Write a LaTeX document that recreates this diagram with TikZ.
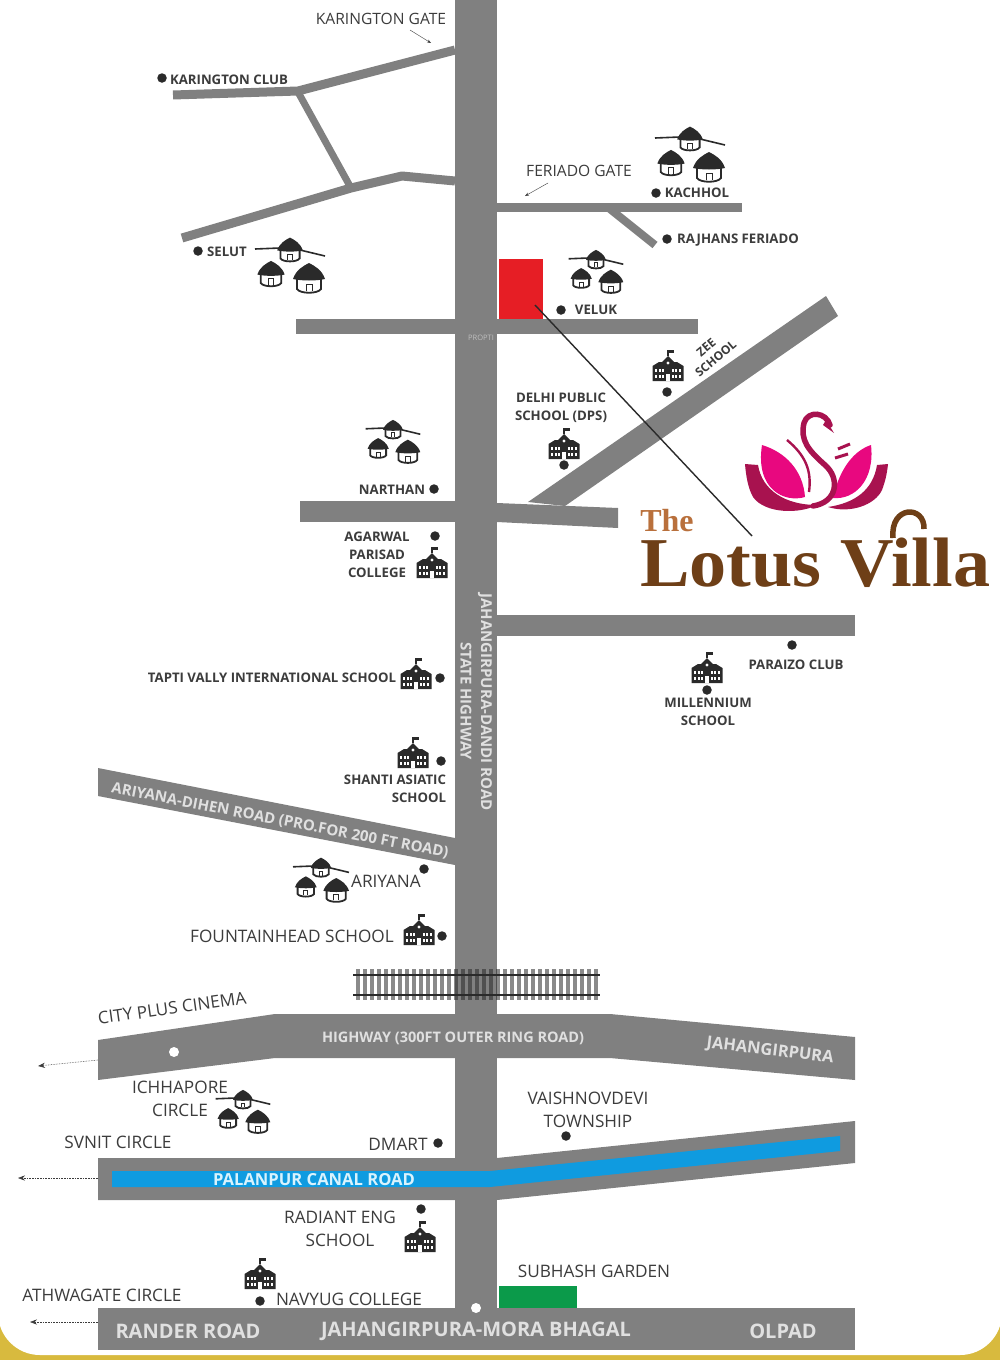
\documentclass[tikz,border=0pt]{standalone}
\usepackage{fontspec}
\setmainfont{Open Sans}
\newfontfamily\logofont{Liberation Serif}
\usepackage{xcolor}
\usetikzlibrary{arrows.meta}
\definecolor{roadgray}{HTML}{808080}
\definecolor{inkgray}{HTML}{3C3C3C}
\definecolor{iconblack}{HTML}{2A2A2A}
\definecolor{canalblue}{HTML}{0F9BE0}
\definecolor{plotred}{HTML}{E61E25}
\definecolor{gardengreen}{HTML}{0B9A4A}
\definecolor{swanpink}{HTML}{E8087F}
\definecolor{swandark}{HTML}{A8124F}
\definecolor{lotusbrown}{HTML}{6E3F17}
\definecolor{lotustan}{HTML}{B9703C}
\definecolor{goldedge}{HTML}{D8BA3E}
\newcommand{\hutshape}{%
    \draw[iconblack,fill=white,line width=1.8pt] (-12,-2) -- (-12,13) .. controls (-9,18) and (9,18) .. (12,13) -- (12,-2);
    \fill[iconblack] (-16,3) .. controls (-13,-6) and (-6,-10) .. (0,-13) .. controls (6,-10) and (13,-6) .. (16,3) .. controls (7,5) and (-7,5) .. cycle;
    \draw[iconblack,line width=1pt] (-3,15) -- (-3,8) -- (3,8) -- (3,15);
}
\tikzset{
    road/.style={fill=roadgray,draw=none},
    track/.style={draw=roadgray,line join=round},
    spot/.style={circle,fill=iconblack,inner sep=0pt,minimum size=9.5pt},
    hole/.style={circle,fill=white,inner sep=0pt,minimum size=10pt},
    place/.style={text=inkgray,font=\fontsize{15.6}{18}\selectfont,align=center,inner sep=0pt},
    wide place/.style={place,font=\fontsize{17.2}{23}\selectfont},
    small place/.style={place,font=\fontsize{13.2}{18}\selectfont\bfseries},
    on road/.style={text=black!12,font=\fontsize{15}{15}\selectfont\bfseries,inner sep=0pt},
    big road/.style={on road,font=\fontsize{20}{20}\selectfont\bfseries},
    pics/school/.style={code={
        \fill[iconblack] (-15.5,14) -- (-15.5,-1) -- (-9,-5) -- (-6,-5) -- (0,-11) -- (6,-5) -- (9,-5) -- (15.5,-1) -- (15.5,14) -- cycle;
        \draw[iconblack,line width=1.2pt] (0,-11) -- (0,-17);
        \fill[iconblack] (0,-17.5) rectangle (6,-14);
        \fill[white] (0,-4) circle (1.6);
        \fill[white] (-1.8,7) rectangle (1.8,14);
        \foreach \wx in {-13,-9.5,-6,3.6,7.1,10.6} {
            \fill[white] (\wx,2) rectangle ++(2.2,3);
            \fill[white] (\wx,8) rectangle ++(2.2,3);
        }
    }},
    pics/village/.style={code={
        \draw[iconblack,line width=1.6pt] (-35,1) -- (-10,0) (10,2) -- (35,8);
        \begin{scope}[scale=.8]\hutshape\end{scope}
        \begin{scope}[shift={(-19,24)},scale=.85]\hutshape\end{scope}
        \begin{scope}[shift={(19,28)},scale=1]\hutshape\end{scope}
    }}
}
\begin{document}
\begin{tikzpicture}[
            x = 1pt, y = -1pt, % picture is laid out in reference pixels
            > = {Stealth[length=7pt]}, % arrow head style
            semithick % line style
        ]
\useasboundingbox (0,0) rectangle (1000,1360);
% page and its gold edge
\fill[goldedge] (0,1300) rectangle (1000,1360);
\fill[white,rounded corners=42pt] (-2,-50) rectangle (1002,1355);

% roads in the north
\draw[track,line width=9pt] (173,95) -- (298,91) -- (455,50);
\draw[track,line width=7pt] (298,92) -- (351,188);
\draw[track,line width=9pt] (182,238) -- (351,188) -- (402,176) -- (455,181);
\draw[track,line width=9pt] (497,207) -- (742,207);
\draw[track,line width=8pt] (610,209) -- (655,245);
\fill[road] (296,319) rectangle (698,334);
\fill[road] (528,502) -- (826,296) -- (838,316) -- (565,506) -- cycle;
\fill[road] (300,501) -- (455,501) -- (455,522) -- (300,522) -- cycle;
\fill[road] (497,503) -- (618,508) -- (618,528) -- (497,522) -- cycle;
\fill[road] (497,615) rectangle (855,636);
\fill[road] (98,768) -- (455,838) -- (455,865) -- (98,796) -- cycle;
% roads in the south
\fill[road] (98,1040) -- (275,1014) -- (610,1014) -- (855,1037) -- (855,1080) -- (610,1058) -- (275,1058) -- (98,1080) -- cycle;
\fill[road] (98,1158) -- (497,1158) -- (855,1121) -- (855,1163) -- (497,1200) -- (98,1200) -- cycle;
\fill[road] (98,1308) rectangle (855,1350);
\fill[road] (455,0) rectangle (497,1320);
\fill[canalblue] (112,1171) -- (490,1171) -- (840,1136) -- (840,1151) -- (490,1187) -- (112,1187) -- cycle;

% railway
\foreach \tx in {358,365,...,596} {
    \draw[iconblack,opacity=.55,line width=4pt] (\tx,969) -- (\tx,1000);
}
\draw[iconblack,line width=2pt] (353,975) -- (600,975);
\draw[iconblack,line width=2pt] (353,995) -- (600,995);

% plots
\node[fill=plotred,draw=none,minimum width=44pt,minimum height=60pt,inner sep=0pt] (plot) at (521,289) {};
\node[fill=gardengreen,draw=none,minimum width=78pt,minimum height=22pt,inner sep=0pt] (garden) at (538,1297) {};

% settlements and schools
\pic at (290,248) {village};
\pic at (690,137) {village};
\pic[scale=.78] at (596,258) {village};
\pic[scale=.78] at (393,428) {village};
\pic[scale=.8] at (321,866) {village};
\pic[scale=.78] at (243,1098) {village};
\pic at (668,367) {school};
\pic at (564,445) {school};
\pic at (432,564) {school};
\pic at (416,675) {school};
\pic at (707,669) {school};
\pic at (413,754) {school};
\pic at (419,931) {school};
\pic at (420,1238) {school};
\pic at (260,1275) {school};

% spots
\node[spot] (clubspot) at (162,78) {};
\node[spot] (selutspot) at (198,251) {};
\node[spot] (kachholspot) at (656,193) {};
\node[spot] (rajhansspot) at (667,239) {};
\node[spot] (veluspot) at (561,310) {};
\node[spot] (zeespot) at (667,392) {};
\node[spot] (dpsspot) at (564,465) {};
\node[spot] (narthanspot) at (434,489) {};
\node[spot] (agarwalspot) at (435,536) {};
\node[spot] (taptispot) at (440,678) {};
\node[spot] (shantispot) at (441,761) {};
\node[spot] (ariyanaspot) at (424,869) {};
\node[spot] (fountainspot) at (442,936) {};
\node[spot] (paraizospot) at (792,645) {};
\node[spot] (millenspot) at (707,690) {};
\node[spot] (vaishnospot) at (566,1136) {};
\node[spot] (dmartspot) at (438,1143) {};
\node[spot] (radiantspot) at (421,1209) {};
\node[spot] (navyugspot) at (260,1301) {};
\node[hole] (cinemaspot) at (174,1052) {};
\node[hole] (moraspot) at (476,1308) {};

% place names
\node[place] (karingate) at (381,19) {KARINGTON GATE};
\node[small place] (karinclub) at (229,80) {KARINGTON CLUB};
\node[small place] (selut) at (227,252) {SELUT};
\node[place] (feriadogate) at (579,171) {FERIADO GATE};
\node[small place] (kachhol) at (697,193) {KACHHOL};
\node[small place] (rajhans) at (738,240) {RAJHANS FERIADO};
\node[small place] (veluk) at (596,310) {VELUK};
\node[small place,font=\fontsize{12}{15}\selectfont\bfseries,rotate=40] (zee) at (711,353) {ZEE\\SCHOOL};
\node[small place] (dps) at (561,408) {DELHI PUBLIC\\SCHOOL (DPS)};
\node[small place] (narthan) at (392,490) {NARTHAN};
\node[small place] (agarwal) at (377,555) {AGARWAL\\PARISAD\\COLLEGE};
\node[small place] (tapti) at (272,678) {TAPTI VALLY INTERNATIONAL SCHOOL};
\node[small place] (paraizo) at (796,665) {PARAIZO CLUB};
\node[small place] (millen) at (708,712) {MILLENNIUM\\SCHOOL};
\node[small place,align=right] (shanti) at (395,789) {SHANTI ASIATIC\\SCHOOL};
\node[wide place] (ariyana) at (386,881) {ARIYANA};
\node[wide place] (fountain) at (292,936) {FOUNTAINHEAD SCHOOL};
\node[wide place,rotate=8] (cityplus) at (172,1008) {CITY PLUS CINEMA};
\node[wide place] (ichhapore) at (180,1099) {ICHHAPORE\\CIRCLE};
\node[wide place] (svnit) at (118,1142) {SVNIT CIRCLE};
\node[wide place] (dmart) at (398,1144) {DMART};
\node[wide place] (vaishno) at (588,1110) {VAISHNOVDEVI\\TOWNSHIP};
\node[wide place] (radiant) at (340,1229) {RADIANT ENG\\SCHOOL};
\node[wide place] (athwagate) at (102,1295) {ATHWAGATE CIRCLE};
\node[wide place] (navyug) at (349,1299) {NAVYUG COLLEGE};
\node[wide place] (subhash) at (594,1271) {SUBHASH GARDEN};

% names on the roads
\node[on road,rotate=-90] (dandi) at (485,702) {JAHANGIRPURA-DANDI ROAD};
\node[on road,rotate=-90] (statehw) at (466,701) {STATE HIGHWAY};
\node[on road,rotate=-11] (dihen) at (280,821) {ARIYANA-DIHEN ROAD (PRO.FOR 200 FT ROAD)};
\node[on road,font=\fontsize{14.5}{15}\selectfont\bfseries] (ringroad) at (453,1038) {HIGHWAY (300FT OUTER RING ROAD)};
\node[on road,font=\fontsize{16.5}{15}\selectfont\bfseries,rotate=-7] (jahan) at (770,1051) {JAHANGIRPURA};
\node[on road,font=\fontsize{16.6}{15}\selectfont\bfseries,text=cyan!15] (canal) at (314,1180) {PALANPUR CANAL ROAD};
\node[big road] (rander) at (188,1331) {RANDER ROAD};
\node[big road] (mora) at (476,1331) {JAHANGIRPURA-MORA BHAGAL};
\node[big road] (olpad) at (783,1331) {OLPAD};
\node[text=black!25,font=\fontsize{7.5}{9}\selectfont,inner sep=0pt] (mark) at (481,338) {PROPTI};

% logo
\fill[swandark] (745,464) -- (758,465) .. controls (762,490) and (785,505) .. (817,505)
    .. controls (800,514) and (765,514) .. (753,497) .. controls (748,488) and (746,476) .. cycle;
\fill[swandark] (888,464) -- (877,465) .. controls (873,490) and (855,503) .. (828,507)
    .. controls (850,514) and (875,505) .. (882,490) .. controls (885,482) and (887,474) .. cycle;
\fill[swanpink] (762,445) .. controls (785,452) and (803,470) .. (805,497)
    .. controls (785,503) and (755,490) .. cycle;
\fill[swanpink] (871,445) .. controls (850,452) and (838,475) .. (833,498)
    .. controls (855,500) and (875,480) .. cycle;
\draw[swandark,line width=2.4pt] (787,440) .. controls (805,455) and (812,470) .. (809,492);
\draw[swandark,line width=5.5pt,line cap=round] (813,506) .. controls (838,502) and (840,478) .. (825,465)
    .. controls (808,450) and (800,440) .. (804,423) .. controls (808,410) and (826,412) .. (830,425);
\fill[swandark] (826,420) -- (834,433) -- (823,425) -- cycle;
\draw[swandark,line width=3pt] (838,449) -- (850,444) (835,458) -- (848,454);
\node[text=lotustan,font=\fontsize{32}{32}\logofont\bfseries,inner sep=0pt,anchor=base west] (the) at (640,531) {The};
\node[text=lotusbrown,font=\fontsize{70}{70}\logofont\bfseries,inner sep=0pt,anchor=base west,xscale=1.06] (lotus) at (640,586) {Lotus Villa};
\draw[lotusbrown,line width=5.5pt] (893,538) .. controls (890,505) and (925,505) .. (924,529);

% pointers
\coordinate (plotend) at (535,305);
\coordinate (logoend) at (752,536);
\coordinate (karinfrom) at (410,30);
\coordinate (karinto) at (431,43);
\coordinate (feriadofrom) at (548,183);
\coordinate (feriadoto) at (525,196);
\coordinate (ringwest) at (98,1060);
\coordinate (ringout) at (38,1066);
\coordinate (canalwest) at (98,1178);
\coordinate (canalout) at (18,1178);
\coordinate (randerwest) at (98,1322);
\coordinate (randerout) at (30,1322);
\path [-, iconblack, line width=1.4pt] (plotend) edge node[left] {} (logoend);
\path [-{Stealth[length=4pt]}, inkgray, thin] (karinfrom) edge node[left] {} (karinto);
\path [-{Stealth[length=4pt]}, inkgray, thin] (feriadofrom) edge node[left] {} (feriadoto);
\path [->, inkgray, densely dotted] (ringwest) edge node[left] {} (ringout);
\path [->, inkgray, densely dotted] (canalwest) edge node[left] {} (canalout);
\path [->, inkgray, densely dotted] (randerwest) edge node[left] {} (randerout);
\end{tikzpicture}
\end{document}
